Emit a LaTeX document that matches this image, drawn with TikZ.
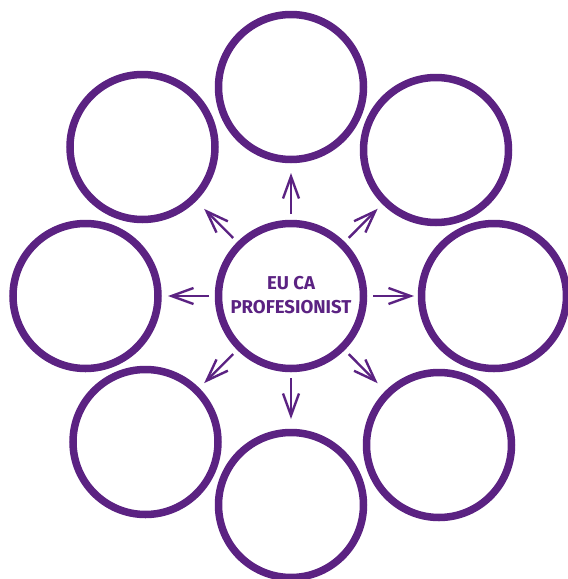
\documentclass[tikz,border=0pt]{standalone}
\usepackage{fontspec}
\setmainfont{Fira Sans}
\usetikzlibrary{arrows.meta,calc}
\definecolor{purp}{RGB}{91,34,130}
\begin{document}
\begin{tikzpicture}[x=1pt,y=-1pt,
  ring/.style={circle,draw=purp,line width=7.5pt,minimum size=145pt,inner sep=0pt},
  arr/.style={draw=purp,line width=2.4pt,-{Straight Barb[length=22pt,width=16pt,line width=2.4pt]}},
  lbl/.style={text=purp,font=\bfseries\fontsize{18.6}{24}\selectfont,align=center}]
\useasboundingbox (0,0) rectangle (568,579);
\node[ring] (c) at (291,296) {};
\node[lbl] (ct) at (291,295) {EU CA\\PROFESIONIST};
\node[ring] (t) at (291,87) {};
\node[ring] (tr) at (436,150) {};
\node[ring] (r) at (494,296) {};
\node[ring] (br) at (439,445) {};
\node[ring] (b) at (291,505) {};
\node[ring] (bl) at (145.5,442) {};
\node[ring] (l) at (85.5,296) {};
\node[ring] (tl) at (142.5,147) {};
\foreach \o in {t,tr,r,br,b,bl,l,tl}{
  \draw[arr] ($(c)!82pt!(\o)$) -- ($(c)!123pt!(\o)$);
}
\end{tikzpicture}
\end{document}
